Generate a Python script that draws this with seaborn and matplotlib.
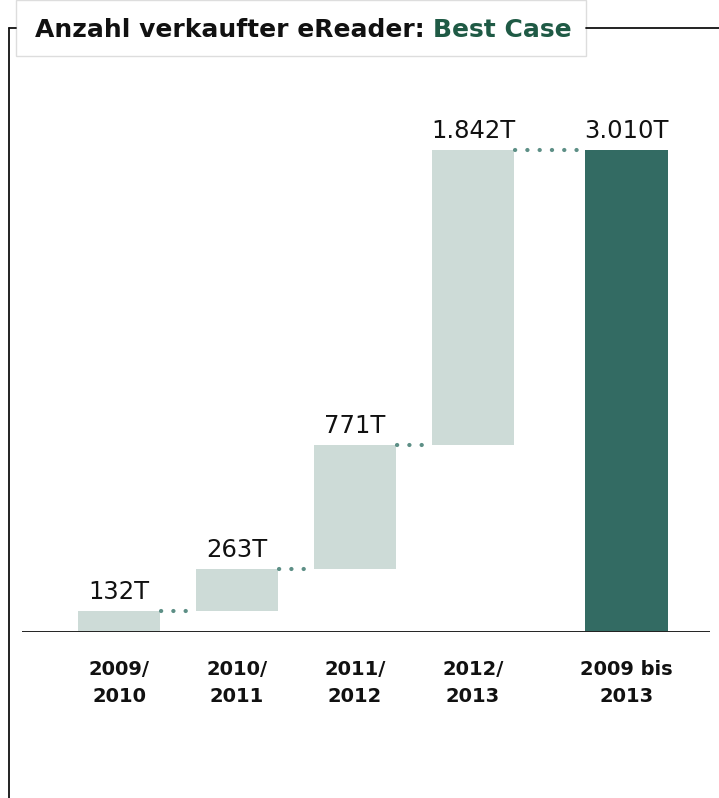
import numpy as np
import pandas as pd
import seaborn as sns
import matplotlib.pyplot as plt
from matplotlib.patches import Rectangle
from matplotlib.lines import Line2D

sns.set_theme(style="white")
plt.rcParams['font.family'] = ['DejaVu Sans']

# ---- data ----
categories = ["2009/\n2010", "2010/\n2011", "2011/\n2012", "2012/\n2013", "2009 bis\n2013"]
increments = [132, 263, 771, 1842]
total = 3010
value_labels = ["132T", "263T", "771T", "1.842T", "3.010T"]
title_main = "Anzahl verkaufter eReader: "
title_accent = "Best Case"

# ---- layout ----
positions = [0, 1, 2, 3, 4.3]
light = "#cddbd7"
dark = "#336b63"
dot_color = "#5d8f86"
title_green = "#1f5a45"

heights = increments + [total]
bottoms = list(np.concatenate([[0], np.cumsum(increments)[:-1]])) + [0]
kinds = ["step"] * len(increments) + ["total"]

df = pd.DataFrame({"pos": positions, "height": heights, "kind": kinds})

W, H = 719, 798
fig = plt.figure(figsize=(W / 100, H / 100), dpi=100)

ax_left_px, ax_right_px = 22, 710
base_px, top_px = 632, 100
scale = (632 - 150) / total  # px per unit
ylim_top = (base_px - top_px) / scale
x0_px, unit_px = 119, 118
xlim = ((ax_left_px - x0_px) / unit_px, (ax_right_px - x0_px) / unit_px)

ax = fig.add_axes([ax_left_px / W, (H - base_px) / H,
                   (ax_right_px - ax_left_px) / W, (base_px - top_px) / H])

sns.barplot(data=df, x="pos", y="height", hue="kind", native_scale=True,
            palette={"step": light, "total": dark}, width=0.7, legend=False,
            ax=ax, linewidth=0, saturation=1)

# shift bars to waterfall bottoms
bw = 0.7
for patch in ax.patches:
    xc = patch.get_x() + patch.get_width() / 2
    i = int(np.argmin([abs(xc - p) for p in positions]))
    patch.set_y(bottoms[i])
    patch.set_width(bw)
    patch.set_x(positions[i] - bw / 2)

ax.set_xlim(*xlim)
ax.set_ylim(0, ylim_top)

# dotted connectors
cum = np.cumsum(increments)
for i in range(len(positions) - 1):
    level = cum[i]
    ax.plot([positions[i] + bw / 2 + 0.01, positions[i + 1] - bw / 2 - 0.01], [level, level],
            color=dot_color, lw=3.0, linestyle=(0, (0.05, 2.9)), dash_capstyle="round",
            solid_capstyle="round", zorder=3)

# value labels
tops = [b + h for b, h in zip(bottoms, heights)]
for p, t, lab in zip(positions, tops, value_labels):
    ax.annotate(lab, (p, t), xytext=(0, 5), textcoords="offset points",
                ha="center", va="bottom", fontsize=17.5, color="#111111")

# baseline
ax.axhline(0, color="#222222", lw=1.4, zorder=4)
for s in ax.spines.values():
    s.set_visible(False)
ax.set_xticks(positions)
ax.set_xticklabels(categories, fontsize=14, linespacing=1.55, color="#111111",
                   fontweight="bold")
ax.tick_params(axis="x", length=0, pad=20)
ax.set_yticks([])
ax.set_xlabel("")
ax.set_ylabel("")

# frame lines (figure coordinates)
def fx(px):
    return px / W

def fy(py):
    return 1 - py / H

fig.add_artist(Line2D([fx(9), fx(9)], [fy(28), fy(798)], color="#111111", lw=1.3))
fig.add_artist(Line2D([fx(9), fx(16)], [fy(28), fy(28)], color="#111111", lw=1.3))
fig.add_artist(Line2D([fx(586), fx(719)], [fy(28), fy(28)], color="#111111", lw=1.3))
fig.add_artist(Rectangle((fx(16), fy(56)), fx(586) - fx(16), fy(0) - fy(56),
                         facecolor="white", edgecolor="#dddddd", lw=1.0))

t1 = fig.text(fx(35), fy(30), title_main, fontsize=18, color="#111111",
              va="center", ha="left", fontweight="bold")
fig.canvas.draw()
bb = t1.get_window_extent()
fig.text(bb.x1 / W, fy(30), title_accent, fontsize=18, color=title_green,
         va="center", ha="left", fontweight="bold")

fig.savefig("out.png", dpi=100)
